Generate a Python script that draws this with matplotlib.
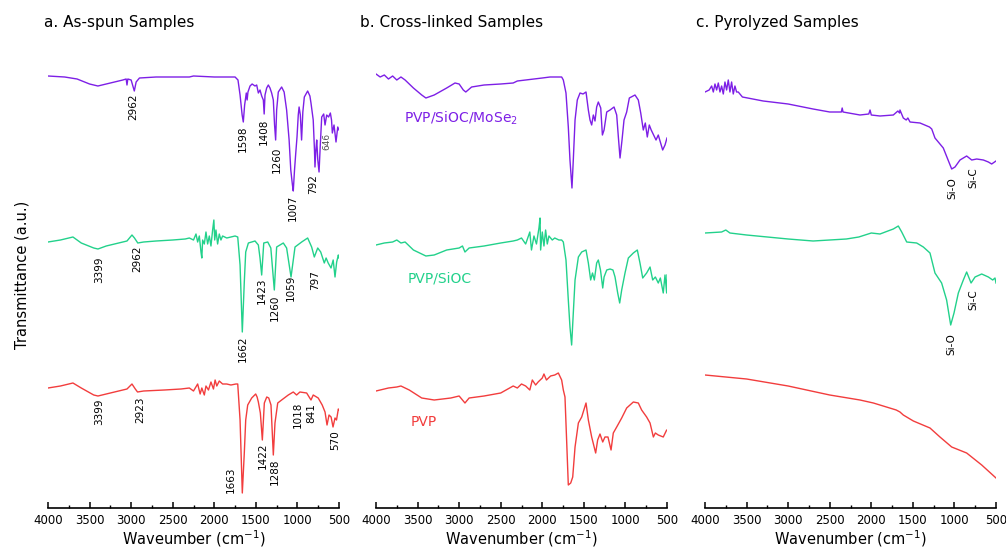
import matplotlib.pyplot as plt
from matplotlib.ticker import MultipleLocator

# colours of the three samples
c_mose2 = '#7d1fe6'
c_sioc = '#22d18b'
c_pvp = '#f23d3d'

# ---- a. as-spun (wavenumber, transmittance a.u., curves stacked) ----
a_mose2_wn = [4000, 3800, 3650, 3500, 3400, 3250, 3100, 3060, 3050, 3040, 3000, 2962, 2940, 2900, 2700,
              2300, 2250, 2000, 1750, 1715, 1690, 1665, 1651, 1635, 1615, 1605, 1595, 1570, 1545, 1510,
              1490, 1470, 1450, 1430, 1410, 1400, 1390, 1370, 1350, 1330, 1310, 1290, 1275, 1262, 1250,
              1230, 1190, 1160, 1130, 1100, 1080, 1060, 1050, 1035, 1020, 1005, 990, 980, 965, 950, 935,
              917, 877, 850, 837, 810, 795, 789, 778, 768, 755, 740, 725, 708, 684, 668, 648, 625, 604,
              590, 580, 560, 536, 515, 500]
a_mose2_t = [429, 428, 426, 421, 419, 422, 425, 426, 420, 426, 425, 414, 423, 427, 428,
             428, 429, 428, 428, 425, 410, 390, 383, 400, 412, 405, 413, 419, 421, 419,
             420, 412, 415, 409, 405, 391, 410, 417, 420, 417, 412, 405, 380, 365, 395,
             413, 418, 413, 395, 365, 335, 320, 314, 335, 352, 368, 390, 398, 390, 365, 393,
             408, 414, 409, 402, 385, 355, 338, 355, 365, 345, 333, 360, 388, 391, 380, 390, 388, 392,
             385, 372, 380, 363, 378, 375]

a_sioc_wn = [4000, 3850, 3700, 3600, 3450, 3399, 3300, 3150, 3050, 2990, 2960, 2920, 2850, 2700, 2500,
             2350, 2300, 2250, 2220, 2200, 2180, 2160, 2150, 2140, 2120, 2100, 2080, 2060, 2040, 2020,
             2005, 1995, 1980, 1960, 1940, 1920, 1900, 1850, 1800, 1750, 1718, 1690, 1663, 1639, 1622,
             1590, 1510, 1470, 1450, 1430, 1405, 1357, 1320, 1278, 1250, 1170, 1130, 1077, 1029, 949,
             877, 829, 797, 756, 720, 677, 655, 630, 596, 570, 548, 528, 508, 500]
a_sioc_t = [263, 265, 268, 262, 257, 256, 259, 262, 264, 270, 267, 262, 263, 264, 265,
            266, 267, 265, 271, 263, 269, 253, 247, 265, 261, 273, 261, 269, 259, 275,
            285, 265, 275, 261, 271, 265, 269, 267, 268, 269, 268, 240, 173, 223, 253,
            262, 264, 260, 247, 230, 262, 263, 257, 215, 258, 262, 257, 228, 258, 263,
            267, 258, 248, 257, 253, 242, 247, 242, 237, 245, 228, 243, 250, 247]

a_pvp_wn = [4000, 3850, 3700, 3600, 3450, 3399, 3250, 3050, 2990, 2950, 2923, 2850, 2600, 2400, 2300,
            2250, 2200, 2170, 2150, 2120, 2100, 2070, 2040, 2010, 1990, 1970, 1940, 1900, 1850, 1800,
            1740, 1718, 1690, 1663, 1639, 1622, 1598, 1550, 1502, 1485, 1470, 1446, 1422, 1398, 1369,
            1345, 1318, 1290, 1270, 1237, 1190, 1110, 1050, 1010, 970, 889, 837, 810, 750, 702, 668,
            644, 620, 595, 572, 548, 530, 508, 500]
a_pvp_t = [117, 119, 122, 117, 110, 109, 112, 116, 121, 116, 113, 114, 115, 116, 117,
           114, 121, 111, 117, 110, 119, 115, 123, 116, 125, 119, 124, 121, 121, 120,
           121, 121, 85, 12, 52, 85, 100, 107, 111, 108, 103, 92, 65, 102, 108,
           107, 100, 50, 82, 102, 105, 110, 113, 110, 113, 112, 105, 110, 107, 100, 93,
           80, 90, 88, 78, 87, 85, 96, 95]

# ---- b. cross-linked ----
b_mose2_wn = [4000, 3950, 3900, 3850, 3800, 3750, 3700, 3650, 3550, 3450, 3400, 3300, 3150, 3050, 3000,
              2950, 2920, 2850, 2700, 2500, 2350, 2300, 2000, 1907, 1767, 1747, 1715, 1687, 1667, 1643,
              1627, 1606, 1579, 1546, 1510, 1474, 1446, 1426, 1406, 1386, 1366, 1346, 1326, 1297, 1277,
              1257, 1225, 1185, 1137, 1105, 1085, 1065, 1041, 1017, 985, 953, 885, 845, 816, 785, 761,
              737, 713, 690, 632, 605, 552, 524, 500]
b_mose2_t = [431, 428, 430, 426, 429, 425, 428, 425, 417, 410, 407, 410, 417, 422, 421,
             415, 413, 418, 420, 421, 422, 424, 427, 428, 428, 425, 412, 378, 345, 317,
             345, 385, 405, 412, 411, 413, 395, 385, 380, 390, 384, 398, 403, 397, 370,
             375, 393, 395, 398, 390, 368, 347, 365, 385, 393, 407, 410, 405, 392, 375, 382,
             368, 380, 375, 365, 370, 355, 360, 367]

b_sioc_wn = [4000, 3900, 3800, 3750, 3700, 3650, 3550, 3400, 3300, 3150, 3000, 2960, 2930, 2880, 2700,
             2500, 2350, 2300, 2250, 2200, 2150, 2130, 2100, 2070, 2040, 2027, 2020, 2000, 1980, 1960,
             1940, 1920, 1880, 1850, 1800, 1767, 1747, 1715, 1687, 1667, 1647, 1627, 1606, 1566, 1526,
             1474, 1446, 1418, 1396, 1374, 1346, 1326, 1300, 1273, 1257, 1225, 1185, 1150, 1125, 1093,
             1069, 1045, 1005, 965, 905, 857, 825, 792, 745, 704, 672, 640, 605, 580, 545, 524, 504, 500]
b_sioc_t = [260, 262, 263, 265, 262, 263, 255, 249, 250, 255, 257, 259, 253, 257, 259,
            262, 264, 265, 267, 261, 273, 255, 269, 261, 277, 287, 255, 273, 259, 275,
            261, 269, 265, 267, 265, 265, 263, 245, 205, 178, 160, 192, 225, 248, 253,
            255, 242, 225, 232, 225, 242, 245, 235, 217, 228, 235, 236, 235, 228, 212,
            202, 215, 232, 247, 252, 255, 242, 227, 232, 238, 225, 228, 222, 227, 212, 230, 212, 230]

b_pvp_wn = [4000, 3850, 3750, 3700, 3600, 3450, 3300, 3100, 3000, 2930, 2880, 2700, 2500, 2350, 2300,
            2250, 2200, 2150, 2120, 2080, 2050, 2000, 1980, 1950, 1900, 1850, 1807, 1767, 1747, 1727,
            1706, 1687, 1658, 1634, 1606, 1566, 1526, 1474, 1446, 1406, 1358, 1334, 1306, 1273, 1246,
            1210, 1173, 1146, 1105, 1045, 985, 905, 845, 805, 745, 704, 664, 640, 605, 545, 504, 500]
b_pvp_t = [114, 117, 118, 119, 115, 107, 105, 107, 109, 102, 107, 109, 112, 119, 117,
           121, 119, 115, 125, 120, 123, 127, 131, 125, 129, 130, 132, 125, 115, 108,
           62, 20, 22, 28, 58, 82, 88, 102, 85, 68, 52, 65, 71, 63, 68,
           68, 55, 72, 78, 87, 97, 103, 102, 95, 88, 82, 68, 72, 70, 68, 75, 75]

# ---- c. pyrolyzed ----
c_mose2_wn = [4000, 3950, 3920, 3900, 3880, 3860, 3840, 3820, 3800, 3780, 3760, 3740, 3720, 3700, 3680,
              3660, 3640, 3620, 3600, 3550, 3300, 3000, 2700, 2500, 2360, 2350, 2340, 2136, 2030, 2015,
              2000, 1895, 1735, 1680, 1660, 1655, 1615, 1580, 1560, 1534, 1414, 1300, 1273, 1234, 1134,
              1086, 1033, 993, 933, 853, 792, 732, 652, 592, 552, 500]
c_mose2_t = [413, 415, 419, 413, 421, 415, 422, 413, 419, 411, 423, 415, 425, 413, 423,
             411, 419, 413, 413, 408, 404, 401, 396, 393, 393, 397, 393, 390, 391, 395,
             390, 389, 390, 394, 392, 395, 387, 385, 387, 383, 382, 378, 376, 367, 357,
             347, 336, 338, 345, 349, 345, 346, 345, 343, 341, 344]

c_sioc_wn = [4000, 3800, 3750, 3700, 3500, 3000, 2700, 2500, 2300, 2150, 2000, 1895, 1800, 1735, 1675,
             1634, 1574, 1454, 1374, 1294, 1234, 1154, 1094, 1045, 1005, 953, 893, 853, 800, 752,
             672, 592, 540, 512, 500]
c_sioc_t = [272, 273, 275, 272, 270, 266, 264, 265, 266, 268, 272, 271, 274, 276, 279,
            273, 263, 262, 258, 252, 232, 222, 205, 180, 192, 212, 225, 233, 222, 228,
            231, 228, 225, 227, 222]

c_pvp_wn = [4000, 3500, 3000, 2500, 2136, 1975, 1700, 1655, 1615, 1494, 1294, 1174, 1033, 853, 672, 500]
c_pvp_t = [130, 126, 119, 110, 105, 102, 95, 93, 90, 84, 77, 68, 58, 52, 40, 27]

# peak labels (text, wavenumber, height)
a_peaks = [('2962', 2978, 398, 'k'), ('1598', 1651, 366, 'k'), ('1408', 1402, 373, 'k'),
           ('1260', 1242, 345, 'k'), ('1007', 1050, 297, 'k'), ('792', 809, 321, 'k'),
           ('646', 648, 364, '#555555'),
           ('3399', 3387, 235, 'k'), ('2962', 2930, 246, 'k'), ('1662', 1651, 156, 'k'),
           ('1423', 1430, 214, 'k'), ('1260', 1278, 197, 'k'), ('1059', 1077, 217, 'k'),
           ('797', 789, 225, 'k'),
           ('3399', 3387, 93, 'k'), ('2923', 2893, 95, 'k'), ('1663', 1799, 25, 'k'),
           ('1422', 1422, 49, 'k'), ('1288', 1270, 33, 'k'), ('1018', 997, 90, 'k'),
           ('841', 837, 92, 'k'), ('570', 548, 65, 'k')]
c_peaks = [('Si-O', 1021, 317), ('Si-C', 773, 327), ('Si-O', 1033, 161), ('Si-C', 773, 205)]

fig = plt.figure(figsize=(10.06, 5.5), dpi=100)
plt.rcParams['font.family'] = 'DejaVu Sans'

lefts = [48, 376, 705]
axs = []
for l in lefts:
    ax = fig.add_axes([l / 1006, 42 / 550, 291 / 1006, 453 / 550])
    ax.set_xlim(4000, 500)
    ax.set_ylim(-3, 450)
    for s in ['left', 'right', 'top']:
        ax.spines[s].set_visible(False)
    ax.spines['bottom'].set_linewidth(1.2)
    ax.set_yticks([])
    ax.xaxis.set_major_locator(MultipleLocator(500))
    ax.xaxis.set_minor_locator(MultipleLocator(250))
    ax.tick_params(axis='x', which='major', direction='in', length=4, width=1.1, labelsize=8.5, pad=4)
    ax.tick_params(axis='x', which='minor', direction='in', length=2.5, width=1)
    axs.append(ax)

lw = 1.0
axs[0].plot(a_mose2_wn, a_mose2_t, color=c_mose2, lw=lw)
axs[0].plot(a_sioc_wn, a_sioc_t, color=c_sioc, lw=lw)
axs[0].plot(a_pvp_wn, a_pvp_t, color=c_pvp, lw=lw)
axs[1].plot(b_mose2_wn, b_mose2_t, color=c_mose2, lw=lw)
axs[1].plot(b_sioc_wn, b_sioc_t, color=c_sioc, lw=lw)
axs[1].plot(b_pvp_wn, b_pvp_t, color=c_pvp, lw=lw)
axs[2].plot(c_mose2_wn, c_mose2_t, color=c_mose2, lw=lw)
axs[2].plot(c_sioc_wn, c_sioc_t, color=c_sioc, lw=lw)
axs[2].plot(c_pvp_wn, c_pvp_t, color=c_pvp, lw=lw)

for txt, wn, h, col in a_peaks:
    fs = 6.5 if txt == '646' else 7.5
    axs[0].text(wn, h, txt, rotation=90, ha='center', va='center', fontsize=fs, color=col)
for txt, wn, h in c_peaks:
    axs[2].text(wn, h, txt, rotation=90, ha='center', va='center', fontsize=7.5, color='k')

axs[1].text(3663, 387, 'PVP/SiOC/MoSe$_2$', color=c_mose2, fontsize=10, va='center', ha='left')
axs[1].text(3615, 226, 'PVP/SiOC', color=c_sioc, fontsize=10, va='center', ha='left')
axs[1].text(3579, 83, 'PVP', color=c_pvp, fontsize=10, va='center', ha='left')

axs[0].set_xlabel('Waveumber (cm$^{-1}$)', fontsize=10.5, labelpad=1)
axs[1].set_xlabel('Wavenumber (cm$^{-1}$)', fontsize=10.5, labelpad=1)
axs[2].set_xlabel('Wavenumber (cm$^{-1}$)', fontsize=10.5, labelpad=1)

fig.text(44 / 1006, 1 - 22 / 550, 'a. As-spun Samples', fontsize=11, va='center', ha='left')
fig.text(360 / 1006, 1 - 22 / 550, 'b. Cross-linked Samples', fontsize=11, va='center', ha='left')
fig.text(696 / 1006, 1 - 22 / 550, 'c. Pyrolyzed Samples', fontsize=11, va='center', ha='left')
fig.text(22 / 1006, 1 - 275 / 550, 'Transmittance (a.u.)', fontsize=10.5, rotation=90,
         va='center', ha='center')

plt.savefig('out.png', dpi=100)
